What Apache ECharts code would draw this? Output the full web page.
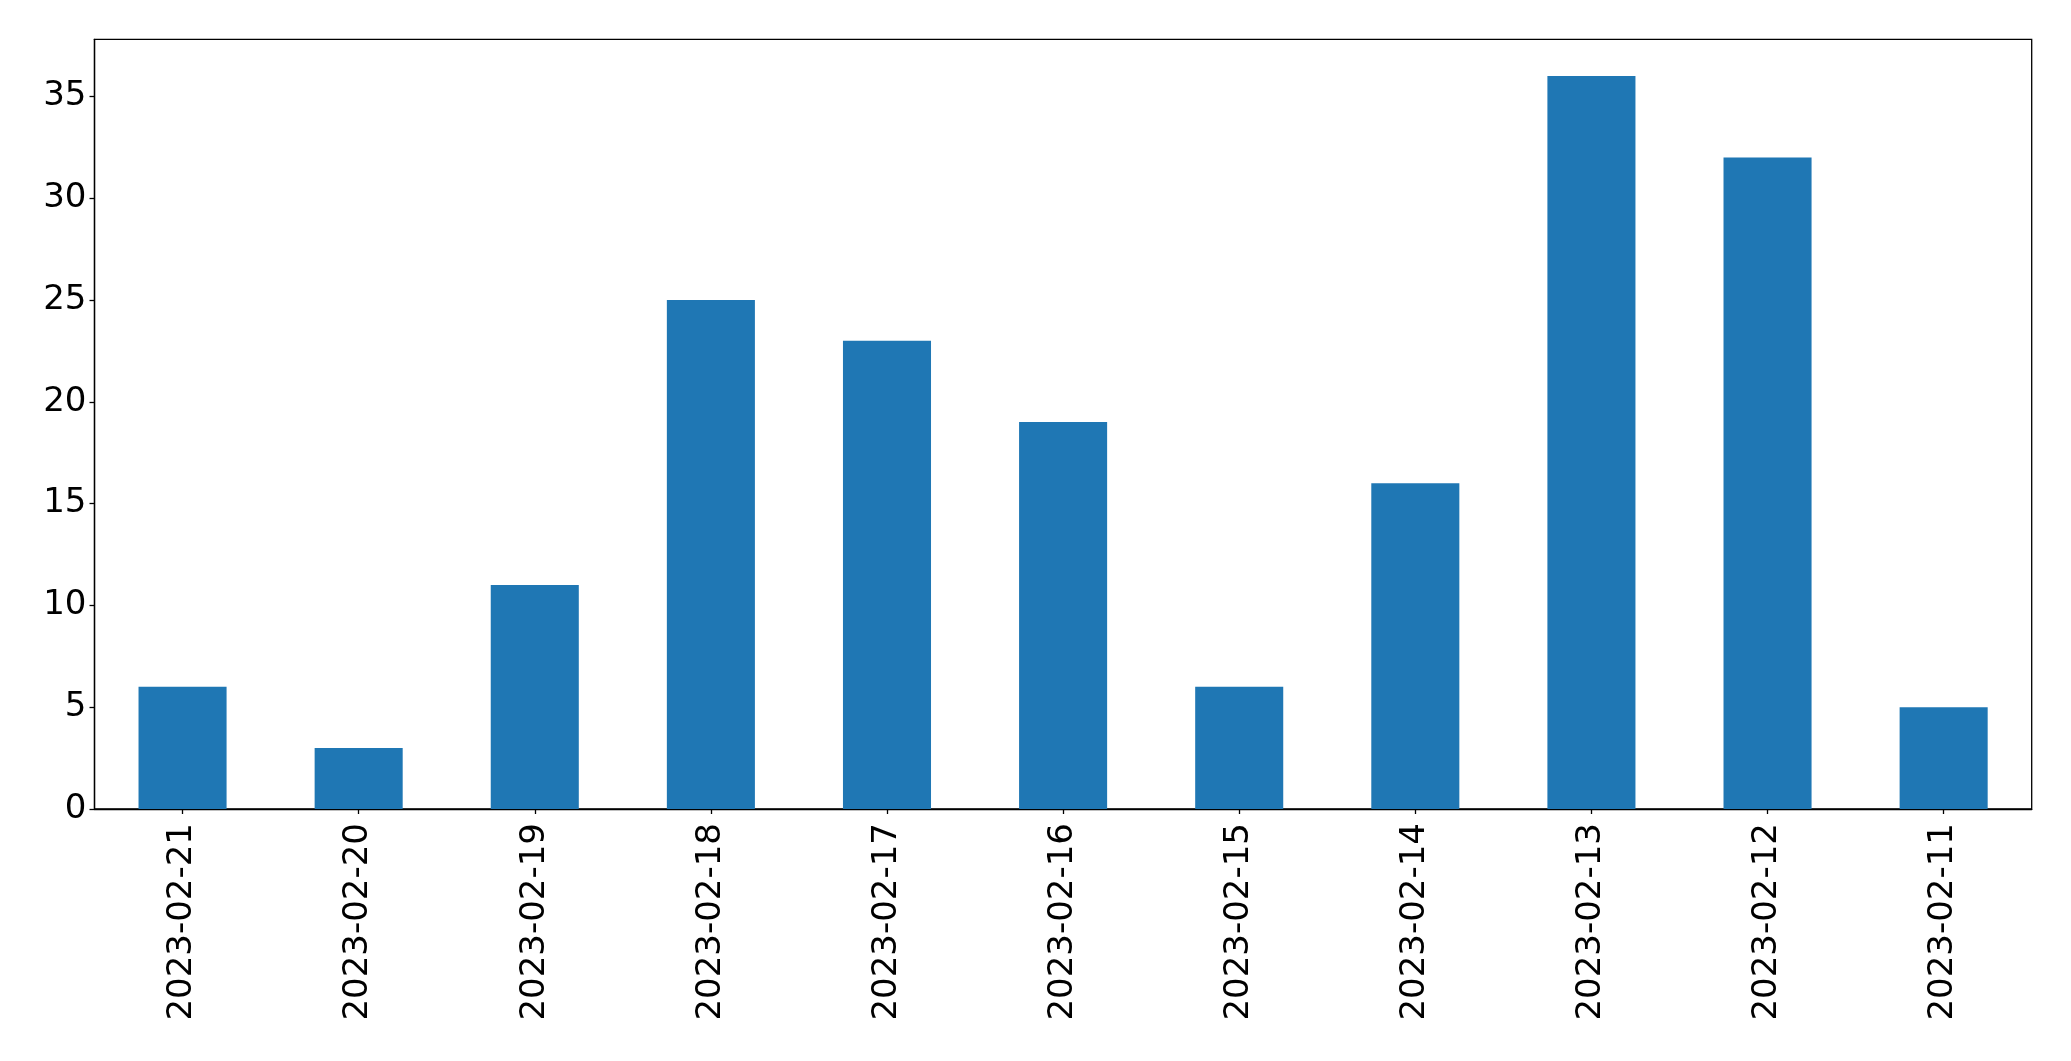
<!DOCTYPE html>
<html><head><meta charset="utf-8">
<script src="https://cdn.jsdelivr.net/npm/echarts@6/dist/echarts.min.js"></script>
<style>html,body{margin:0;padding:0;background:#fff}#c{width:2071px;height:1061px}</style>
</head><body><div id="c"></div>
<script>
const categories = ["2023-02-21","2023-02-20","2023-02-19","2023-02-18","2023-02-17","2023-02-16","2023-02-15","2023-02-14","2023-02-13","2023-02-12","2023-02-11"];
const values = [6,3,11,25,23,19,6,16,36,32,5];
const yTicks = [0,5,10,15,20,25,30,35];
const chart = echarts.init(document.getElementById('c'));
chart.setOption({
  animation:false,
  backgroundColor:'#fff',
  textStyle:{fontFamily:'DejaVu Sans'},
  grid:{left:94.5,top:39.3,right:39.3,bottom:252,show:true,borderColor:'#000',borderWidth:1.3,backgroundColor:'transparent'},
  xAxis:{type:'category',data:categories,
    axisLine:{show:true,lineStyle:{color:'#000',width:1.3}},
    axisTick:{show:true,alignWithLabel:true,length:5,lineStyle:{color:'#000',width:1.3}},
    axisLabel:{rotate:90,fontSize:34,color:'#000',margin:14,fontFamily:'DejaVu Sans',interval:0}},
  yAxis:{type:'value',min:0,max:37.8,interval:5,
    splitLine:{show:false},
    axisLine:{show:true,lineStyle:{color:'#000',width:1.3}},
    axisTick:{show:true,length:5,lineStyle:{color:'#000',width:1.3},customValues:yTicks},
    axisLabel:{fontSize:34,color:'#000',margin:8,fontFamily:'DejaVu Sans',customValues:yTicks}},
  series:[{type:'bar',data:values,barWidth:'50%',itemStyle:{color:'#1f77b4'}}]
});
</script></body></html>
